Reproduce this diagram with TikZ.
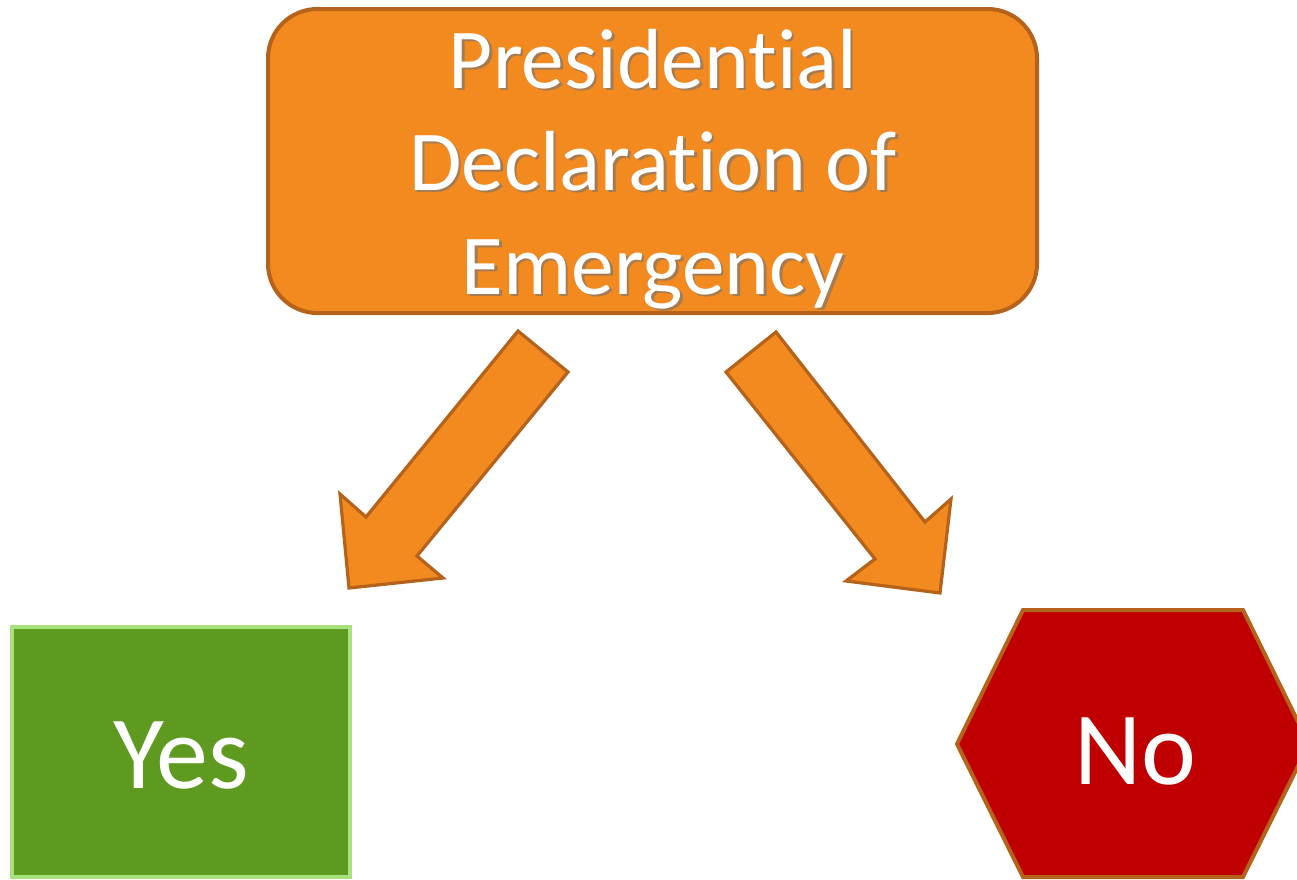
\documentclass[tikz,border=0pt]{standalone}
\usepackage{fontspec}
\setmainfont[Ligatures={NoCommon,NoRequired}]{Carlito}
\definecolor{boxorange}{HTML}{F28A20}
\definecolor{edgeorange}{HTML}{B5621B}
\definecolor{yesgreen}{HTML}{5E9A20}
\definecolor{yesedge}{HTML}{A9E27C}
\definecolor{nored}{HTML}{C00000}
\begin{document}
\begin{tikzpicture}[x=0.75pt,y=-0.75pt,
  orangebox/.style={draw=edgeorange,fill=boxorange,line width=3pt,rounded corners=37pt},
  blockarrow/.style={draw=edgeorange,fill=boxorange,line width=2.4pt,line join=miter},
  titletext/.style={text=white,font=\fontsize{64}{77}\selectfont,anchor=base,inner sep=0pt},
  titleshadow/.style={text=black!55,opacity=0.6,font=\fontsize{64}{77}\selectfont,anchor=base,inner sep=0pt},
  bigtext/.style={text=white,font=\fontsize{78}{90}\selectfont,anchor=base,inner sep=0pt}]
\useasboundingbox (0,0) rectangle (1297,879);
\clip (0,0) rectangle (1297,879);
\fill[white] (0,0) rectangle (1297,879);
% top box
\draw[orangebox] (268,9) rectangle (1037,313);
\node[coordinate] (box) at (653,161) {};
\foreach \y/\t/\n in {88/Presidential/t1,190/Declaration of/t2,294/Emergency/t3}{
  \node[titleshadow] at (655.5,\y+2.5) {\t};
  \node[titletext] (\n) at (653,\y) {\t};
}
% block arrows
\draw[blockarrow] (518,331) -- (568,372) -- (417,556) -- (443,578) -- (349,588) -- (340,494) -- (366,517) -- cycle;
\draw[blockarrow] (776,332) -- (726,372) -- (875,559) -- (846,581) -- (940,593) -- (951,499) -- (925,522) -- cycle;
% yes box
\draw[draw=yesedge,fill=yesgreen,line width=3pt] (12,627) rectangle (350,877);
\node[bigtext] (yes) at (181,788) {Yes};
% no hexagon
\draw[draw=edgeorange,fill=nored,line width=3pt,line join=miter] (957,744) -- (1023,610) -- (1243,610) -- (1309,744) -- (1243,877) -- (1023,877) -- cycle;
\node[bigtext] (no) at (1135,784) {No};
\end{tikzpicture}
\end{document}
